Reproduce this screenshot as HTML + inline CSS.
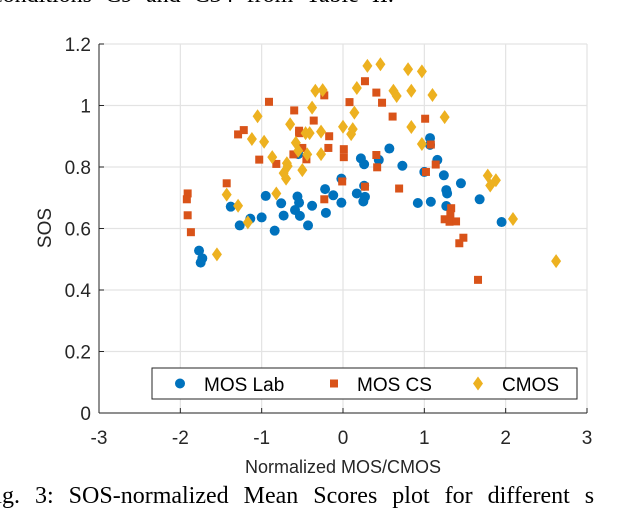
<!DOCTYPE html>
<html><head><meta charset="utf-8"><style>
body{margin:0;background:#fff;width:626px;height:510px;overflow:hidden;position:relative;font-family:"Liberation Sans",sans-serif}
.cap{position:absolute;font-family:"Liberation Serif",serif;font-size:24px;color:#000;white-space:nowrap;word-spacing:7px}
</style></head><body>
<div class="cap" style="left:-8px;top:-18px">conditions C9 and C34 from Table II.</div>
<div class="cap" style="left:-18px;top:483px;word-spacing:9px">Fig. 3: SOS-normalized Mean Scores plot for different s</div>
<svg id="chart" width="626" height="510" style="position:absolute;left:0;top:0">
<g id="grid"></g><g id="marks"></g><g id="axes"></g>
</svg>
<script>
const xTicks=[-3,-2,-1,0,1,2,3];
const yTicks=[0,0.2,0.4,0.6,0.8,1,1.2];
const yTickLabels=["0","0.2","0.4","0.6","0.8","1","1.2"];
const labX=[-1.77,-1.73,-1.75,-1.38,-1.27,-1.14,-1.00,-0.95,-0.84,-0.76,-0.73,-0.59,-0.56,-0.54,-0.53,-0.43,-0.38,-0.22,-0.21,-0.12,-0.02,-0.02,-0.55,0.17,0.25,0.27,0.26,0.22,0.26,0.44,0.57,0.73,0.92,1.00,1.07,1.07,1.08,1.16,1.24,1.27,1.28,1.27,1.45,1.68,1.95];
const labY=[0.528,0.503,0.489,0.671,0.610,0.632,0.636,0.706,0.593,0.682,0.642,0.660,0.704,0.684,0.641,0.610,0.674,0.728,0.651,0.708,0.762,0.684,0.842,0.714,0.688,0.703,0.739,0.828,0.809,0.823,0.860,0.804,0.683,0.784,0.894,0.872,0.687,0.823,0.773,0.725,0.714,0.673,0.747,0.695,0.621];
const csX=[-1.91,-1.92,-1.91,-1.87,-1.43,-1.29,-1.22,-1.03,-0.91,-0.82,-0.60,-0.54,-0.54,-0.50,-0.61,-0.45,-0.36,-0.23,-0.17,-0.18,-0.23,0.01,0.01,-0.01,0.08,0.27,0.41,0.48,0.61,0.41,0.42,0.27,0.69,1.01,1.08,1.14,1.02,1.33,1.32,1.25,1.31,1.39,1.48,1.43,1.66];
const csY=[0.714,0.695,0.643,0.588,0.747,0.906,0.920,0.824,1.012,0.810,0.984,0.918,0.910,0.862,0.841,0.825,0.951,1.033,0.900,0.862,0.695,0.858,0.832,0.753,1.011,1.079,1.042,1.009,0.964,0.839,0.799,0.736,0.730,0.957,0.873,0.808,0.784,0.666,0.647,0.630,0.622,0.623,0.570,0.552,0.433];
const cmX=[-1.55,-1.43,-1.29,-1.17,-1.12,-1.05,-0.97,-0.87,-0.82,-0.69,-0.68,-0.73,-0.70,-0.65,-0.58,-0.55,-0.50,-0.44,-0.46,-0.41,-0.38,-0.34,-0.25,-0.27,-0.27,0.00,0.30,0.46,0.17,0.62,0.66,0.80,0.97,0.84,1.10,0.14,0.12,0.10,0.84,1.25,0.97,1.78,1.88,1.81,2.09,2.62];
const cmY=[0.516,0.710,0.674,0.620,0.891,0.965,0.882,0.832,0.714,0.812,0.803,0.780,0.762,0.939,0.879,0.853,0.790,0.841,0.910,0.910,0.993,1.048,1.050,0.915,0.842,0.931,1.129,1.134,1.057,1.048,1.031,1.118,1.111,1.048,1.034,0.977,0.923,0.907,0.930,0.962,0.875,0.772,0.757,0.740,0.631,0.494];
const L=99,R=587,T=44,B=413;
const xs=v=>L+(v+3)/6*(R-L);
const ys=v=>B-v/1.2*(B-T);
const NS="http://www.w3.org/2000/svg";
function mk(tag,attrs,parent){const e=document.createElementNS(NS,tag);for(const k in attrs)e.setAttribute(k,attrs[k]);parent.appendChild(e);return e;}
const grid=document.getElementById('grid'),marks=document.getElementById('marks'),axes=document.getElementById('axes');
xTicks.forEach((t,i)=>{
 const g=mk('line',{x1:xs(t),x2:xs(t),y1:T,y2:B,stroke:'#e3e3e3','stroke-width':1.2},grid);
 
 
 mk('line',{x1:xs(t),x2:xs(t),y1:B,y2:B-5,stroke:'#262626'},axes);
 const tx=mk('text',{x:xs(t),y:B+31,'text-anchor':'middle','font-size':19,fill:'#262626'},axes);
 tx.textContent=String(t);
 
 
});
yTicks.forEach((t,i)=>{
 const g=mk('line',{x1:L,x2:R,y1:ys(t),y2:ys(t),stroke:'#e3e3e3','stroke-width':1.2},grid);
 
 
 mk('line',{x1:L,x2:L+5,y1:ys(t),y2:ys(t),stroke:'#262626'},axes);
 const tx=mk('text',{x:L-8,y:ys(t)+7,'text-anchor':'end','font-size':19,fill:'#262626'},axes);
 tx.textContent=yTickLabels[i];
 
 
});
mk('line',{x1:L,x2:L,y1:T,y2:B,stroke:'#262626'},axes);
mk('line',{x1:L,x2:R,y1:B,y2:B,stroke:'#262626'},axes);
function circ(x,y,p){return mk('circle',{cx:x,cy:y,r:5,fill:'#0072bd'},p);}
function sq(x,y,p){return mk('rect',{x:x-4,y:y-4,width:8,height:8,fill:'#d95319'},p);}
function dia(x,y,p){return mk('path',{d:`M${x},${y-7}L${x+5},${y}L${x},${y+7}L${x-5},${y}Z`,fill:'#edb120'},p);}
labX.forEach((v,i)=>{const e=circ(xs(v),ys(labY[i]),marks);
 
 });
csX.forEach((v,i)=>{const e=sq(xs(v),ys(csY[i]),marks);
 
 });
cmX.forEach((v,i)=>{const e=dia(xs(v),ys(cmY[i]),marks);
 
 });
const lg=mk('g',{},axes);


mk('rect',{x:152,y:368,width:425,height:31,fill:'#fff',stroke:'#262626'},lg);
circ(180,383.5,lg);
sq(334,383.5,lg);
dia(478,383.5,lg);
[['MOS Lab',204],['MOS CS',357],['CMOS',502]].forEach(a=>{const t=mk('text',{x:a[1],y:391,'font-size':19,fill:'#000'},lg);t.textContent=a[0];
 
 });
const xl=mk('text',{x:343,y:473,'text-anchor':'middle','font-size':18,fill:'#262626'},axes);
xl.textContent='Normalized MOS/CMOS';


const yl=mk('text',{x:0,y:0,'text-anchor':'middle','font-size':19,fill:'#262626',transform:'translate(51,228) rotate(-90)'},axes);
yl.textContent='SOS';


</script>
</body></html>
